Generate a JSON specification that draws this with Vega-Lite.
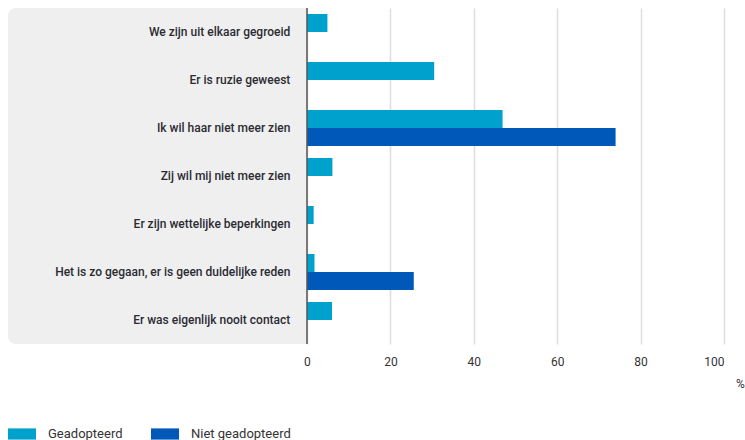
{
  "$schema": "https://vega.github.io/schema/vega-lite/v6.json",
  "width": 716,
  "height": 336,
  "autosize": {"type": "none"},
  "padding": {"left": 8, "top": 8, "right": 21, "bottom": 96},
  "background": "white",
  "config": {
    "view": {"stroke": null},
    "font": "Roboto"
  },
  "data": {
    "values": [
      {"category": "We zijn uit elkaar gegroeid", "group": "Geadopteerd", "value": 4.9},
      {"category": "Er is ruzie geweest", "group": "Geadopteerd", "value": 30.5},
      {"category": "Ik wil haar niet meer zien", "group": "Geadopteerd", "value": 46.9},
      {"category": "Ik wil haar niet meer zien", "group": "Niet geadopteerd", "value": 74.0},
      {"category": "Zij wil mij niet meer zien", "group": "Geadopteerd", "value": 6.1},
      {"category": "Er zijn wettelijke beperkingen", "group": "Geadopteerd", "value": 1.6},
      {"category": "Het is zo gegaan, er is geen duidelijke reden", "group": "Geadopteerd", "value": 1.8},
      {"category": "Het is zo gegaan, er is geen duidelijke reden", "group": "Niet geadopteerd", "value": 25.6},
      {"category": "Er was eigenlijk nooit contact", "group": "Geadopteerd", "value": 6.0}
    ]
  },
  "layer": [
    {
      "data": {"values": [{}]},
      "mark": {"type": "rect", "color": "#efefef", "cornerRadiusTopLeft": 8, "cornerRadiusBottomLeft": 8},
      "encoding": {
        "x": {"datum": -71.7, "type": "quantitative"},
        "x2": {"datum": 0}
      }
    },
    {
      "mark": {"type": "bar"},
      "encoding": {
        "y": {
          "field": "category",
          "type": "nominal",
          "sort": ["We zijn uit elkaar gegroeid", "Er is ruzie geweest", "Ik wil haar niet meer zien", "Zij wil mij niet meer zien", "Er zijn wettelijke beperkingen", "Het is zo gegaan, er is geen duidelijke reden", "Er was eigenlijk nooit contact"],
          "scale": {"paddingInner": 0.25, "paddingOuter": 0.125},
          "axis": null
        },
        "yOffset": {
          "field": "group",
          "type": "nominal",
          "sort": ["Geadopteerd", "Niet geadopteerd"],
          "scale": {"domain": ["Geadopteerd", "Niet geadopteerd"], "paddingInner": 0, "paddingOuter": 0}
        },
        "x": {
          "field": "value",
          "type": "quantitative",
          "scale": {"domain": [-71.7, 100], "nice": false, "zero": false},
          "axis": {
            "values": [0, 20, 40, 60, 80, 100],
            "grid": true,
            "gridColor": "#dddddd",
            "gridWidth": 1.5,
            "domain": false,
            "ticks": false,
            "labelPadding": 12,
            "labelFontSize": 12,
            "labelColor": "#333333",
            "labelFont": "Roboto",
            "title": "%",
            "titleFontSize": 12,
            "titleFontWeight": "normal",
            "titleColor": "#333333",
            "titleX": 732,
            "titleY": 39,
            "titleAlign": "center",
            "titleBaseline": "middle",
            "titleAnchor": null
          }
        },
        "color": {
          "field": "group",
          "type": "nominal",
          "scale": {"domain": ["Geadopteerd", "Niet geadopteerd"], "range": ["#00A1CD", "#0058B8"]},
          "legend": {
            "title": null,
            "orient": "none",
            "direction": "horizontal",
            "legendX": 0,
            "legendY": 412,
            "symbolType": "M-1,-0.4L1,-0.4L1,0.4L-1,0.4Z",
            "symbolSize": 784,
            "symbolStrokeWidth": 0,
            "symbolOpacity": 1,
            "labelFontSize": 13,
            "labelColor": "#333333",
            "labelOffset": 12,
            "columnPadding": 28
          }
        }
      }
    },
    {
      "data": {"values": [{}]},
      "mark": {"type": "rule", "color": "#555555", "strokeWidth": 1.5},
      "encoding": {
        "x": {"datum": 0, "type": "quantitative"}
      }
    },
    {
      "transform": [{"filter": "datum.group === 'Geadopteerd'"}],
      "mark": {"type": "text", "align": "right", "baseline": "middle", "fontSize": 12, "color": "#2b2b33", "font": "Roboto", "fontWeight": 500},
      "encoding": {
        "y": {"field": "category", "type": "nominal", "sort": ["We zijn uit elkaar gegroeid", "Er is ruzie geweest", "Ik wil haar niet meer zien", "Zij wil mij niet meer zien", "Er zijn wettelijke beperkingen", "Het is zo gegaan, er is geen duidelijke reden", "Er was eigenlijk nooit contact"]},
        "x": {"datum": -4, "type": "quantitative"},
        "text": {"field": "category", "type": "nominal"}
      }
    }
  ]
}
